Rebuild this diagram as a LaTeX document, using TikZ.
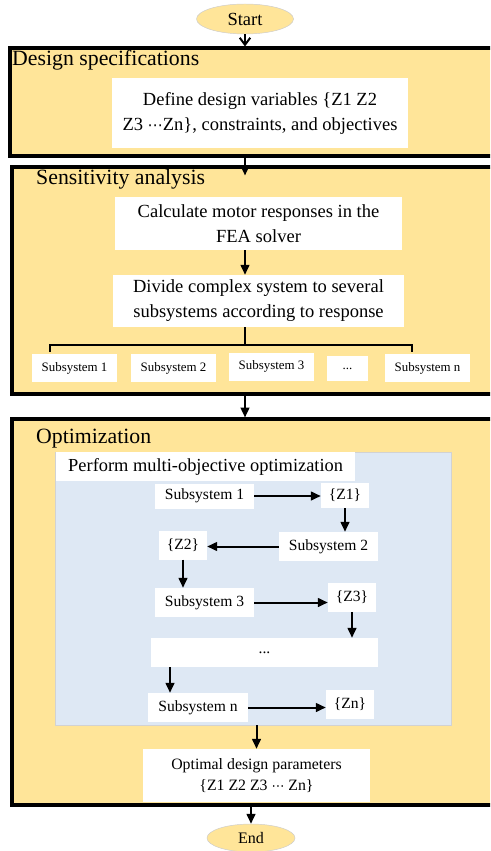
\documentclass[tikz,border=0pt]{standalone}
\usepackage{fontspec}
\setmainfont{Liberation Serif}
\newfontfamily\symfont{DejaVu Sans}
\usetikzlibrary{shapes.geometric,arrows.meta}
\definecolor{stagefill}{HTML}{FFE599}
\definecolor{optfill}{HTML}{DEE8F4}

\begin{document}
\begin{tikzpicture}[x=0.03cm,y=-0.03cm,>={Triangle[length=8.5pt,width=7.5pt]}]
	\def\px{0.03cm}
	\tikzset{
		stage/.style={draw, line width=2.6pt, fill=stagefill, inner sep=0},
		box/.style={fill=white, inner sep=0, align=center, font=\fontsize{15.8}{21.3}\selectfont},
		sub/.style={fill=white, inner sep=0, minimum width=85*\px, minimum height=28*\px, font=\fontsize{11}{13}\selectfont},
		opt/.style={fill=white, inner sep=0, minimum height=29*\px, font=\fontsize{13.3}{16}\selectfont},
		terminal/.style={ellipse, draw=gray!40, fill=stagefill, inner sep=0},
		title/.style={anchor=base west, inner sep=0, font=\fontsize{18.6}{22}\selectfont},
		link/.style={->, line width=1.7pt},
	}
	\clip (0,0) rectangle (490,851);

	%% ========================================================
	\node[terminal, minimum width=97*\px, minimum height=30*\px, font=\fontsize{15.8}{18}\selectfont] (start) at (245,19) {Start};

	\node[stage, minimum width=495*\px, minimum height=108*\px] (spec) at (257.5,102) {};
	\node[title] (spectitle) at (12,66) {Design specifications};
	\node[box, minimum width=296*\px, minimum height=70*\px] (define) at (260,113) {Define design variables \{Z1 Z2\\Z3 {\symfont\fontsize{13}{16}\selectfont ⋯}Zn\}, constraints, and objectives};
	%% ========================================================

	%% ========================================================
	\node[stage, minimum width=493*\px, minimum height=227*\px] (sens) at (258.5,280.5) {};
	\node[title] (senstitle) at (36,185) {Sensitivity analysis};
	\node[box, minimum width=287*\px, minimum height=53*\px] (calc) at (258.5,223.5) {Calculate motor responses in the\\FEA solver};
	\node[box, minimum width=291*\px, minimum height=52*\px] (divide) at (258.5,301) {Divide complex system to several\\subsystems according to response};

	\node[sub] (s1) at (74.5,368) {Subsystem 1};
	\node[sub] (s2) at (173.5,368) {Subsystem 2};
	\node[sub] (s3) at (271.5,366.5) {Subsystem 3};
	\node[sub, minimum width=41*\px, minimum height=25*\px] (sdots) at (347.5,368.5) {...};
	\node[sub] (sn) at (427.5,368) {Subsystem n};
	%% ========================================================

	%% ========================================================
	\node[stage, minimum width=493*\px, minimum height=386*\px] (optim) at (258.5,612) {};
	\node[title] (optimtitle) at (36,443) {Optimization};

	\node[draw=gray!35, fill=optfill, minimum width=396*\px, minimum height=273*\px, inner sep=0] (blue) at (253,588.5) {};
	\node[fill=white, anchor=west, inner xsep=12*\px, inner ysep=0, minimum height=29*\px, font=\fontsize{15.7}{18}\selectfont] (perform) at (56,466.5) {Perform multi-objective optimization};

	\node[opt, minimum width=99*\px, minimum height=25*\px] (os1) at (204.5,496) {Subsystem 1};
	\node[opt, minimum width=48*\px, minimum height=25*\px] (z1) at (345,495.5) {\{Z1\}};
	\node[opt, minimum width=99*\px] (os2) at (328.5,546.5) {Subsystem 2};
	\node[opt, minimum width=48*\px] (z2) at (183,545) {\{Z2\}};
	\node[opt, minimum width=99*\px] (os3) at (204.5,602.5) {Subsystem 3};
	\node[opt, minimum width=48*\px] (z3) at (352,597.5) {\{Z3\}};
	\node[opt, minimum width=227*\px] (dots) at (264.5,652.5) {...};
	\node[opt, minimum width=100*\px] (osn) at (198,707.5) {Subsystem n};
	\node[opt, minimum width=48*\px] (zn) at (350,704.5) {\{Zn\}};

	\node[box, minimum width=227*\px, minimum height=53*\px, font=\fontsize{13.5}{18}\selectfont] (optimal) at (256.5,775.5) {Optimal design parameters\\\{Z1 Z2 Z3 {\symfont\fontsize{11}{14}\selectfont ⋯} Zn\}};
	%% ========================================================

	\node[terminal, minimum width=88*\px, minimum height=28*\px, font=\fontsize{13.7}{16}\selectfont] (end) at (251,838) {End};

	% connectors
	\draw[-{Straight Barb[length=6pt,width=9pt]}, line width=1.7pt] (start) -- (start.south |- spec.north);
	\coordinate (a1) at (start.south |- sens.north);
	\draw[link] (start.south |- spec.south) -- ([yshift=-10*\px]a1);
	\draw[link] (calc.south -| start) -- (divide.north -| start);
	\draw[line width=1.3pt] (divide.south -| start) -- ++(0,18);
	\draw[line width=1.3pt] (50,352) |- (412,345) -- (412,352);
	\draw[link] (start.south |- sens.south) -- (start.south |- optim.north);

	\draw[link] (os1.east) -- (os1.east -| z1.west);
	\draw[link] (z1.south) -- (z1.south |- os2.north);
	\draw[link] (os2.west) -- (os2.west -| z2.east);
	\draw[link] (z2.south) -- (z2.south |- os3.north);
	\draw[link] (os3.east) -- (os3.east -| z3.west);
	\draw[link] (z3.south) -- (z3.south |- dots.north);
	\coordinate (d1) at ([xshift=-28*\px]osn.north);
	\draw[link] (d1 |- dots.south) -- (d1);
	\draw[link] (osn.east) -- (osn.east -| zn.west);
	\draw[link] (optimal.north |- blue.south) -- (optimal.north);
	\draw[link] (end.north |- optim.south) -- (end.north);
\end{tikzpicture}
\end{document}
